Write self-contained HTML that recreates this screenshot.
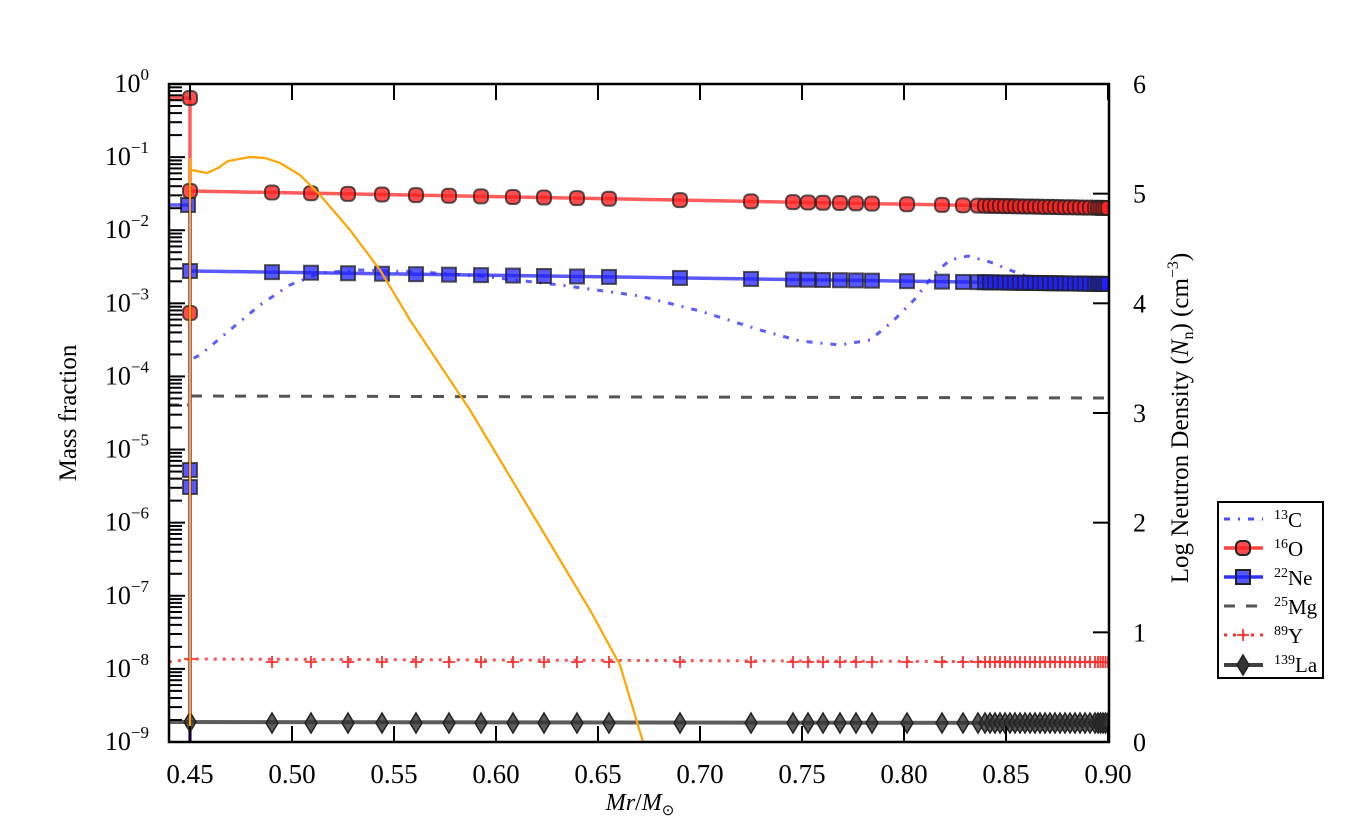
<!DOCTYPE html>
<html><head><meta charset="utf-8"><style>
html,body{margin:0;padding:0;background:#fff;}
svg{display:block;font-family:"Liberation Serif",serif;}
</style></head><body>
<svg id="s" width="1350" height="825" viewBox="0 0 1350 825" xmlns="http://www.w3.org/2000/svg">
<defs><clipPath id="c"><rect x="169" y="84" width="940" height="658"/></clipPath></defs>
<g id="data" clip-path="url(#c)"></g>
<g id="axes"></g>
</svg>
<script>
const NS="http://www.w3.org/2000/svg";
const D=document.getElementById('data'),A=document.getElementById('axes');
function el(p,tag,at,txt){const e=document.createElementNS(NS,tag);for(const k in at)e.setAttribute(k,at[k]);if(txt!==undefined)e.innerHTML=txt;p.appendChild(e);return e;}
const X=v=>190+(v-0.45)*2040;
const LY=d=>84+(-d)*73.11;
const RY=v=>742-v*109.67;
let mx=[190,272,311,348,382,416,449,481,513,544,577,609,680,751,793,808,823,840,856,872,907,942,963,978];
for(let x=985;x<=1095;x+=5)mx.push(x);
for(let x=1098;x<=1108;x+=2.5)mx.push(x);
const lin=(a,b)=>x=>a+(b-a)*(x-190)/918;
el(D,'line',{x1:169,y1:405,x2:188,y2:405,stroke:'#555',"stroke-width":3,"stroke-dasharray":"10,8"});
el(D,'line',{x1:191,y1:396,x2:1109,y2:398,stroke:'#555',"stroke-width":3,"stroke-dasharray":"11,11"});
const c13=[[190,740],[190,360],[200,355],[230,330],[260,305],[290,285],[320,273],[360,270],[420,272],[480,276],[560,285],[640,296],[700,311],[760,330],[800,341],[840,345],[870,340],[892,322],[914,300],[935,273],[950,260],[968,256],[990,262],[1020,274],[1050,283],[1109,285]];
el(D,'polyline',{points:c13.map(p=>p.join(',')).join(' '),fill:'none',stroke:'#4a4aff',"stroke-opacity":0.9,"stroke-width":3,"stroke-dasharray":"6,8,2,8"});
const oY=lin(191,208),nY=lin(271,284);
el(D,'polyline',{points:`190,742 190,98 190,313 190,191 1109,208`,fill:'none',stroke:'#ff4040',"stroke-opacity":0.85,"stroke-width":3.5});
el(D,'line',{x1:169,y1:98,x2:190,y2:98,stroke:'#ff4040',"stroke-opacity":0.85,"stroke-width":3.5});
el(D,'polyline',{points:`169,205 190,205 190,742 190,271 1109,284`,fill:'none',stroke:'#3030ff',"stroke-opacity":0.8,"stroke-width":3.5});
el(D,'polyline',{points:`169,662 190,659 1109,662`,fill:'none',stroke:'#ff3030',"stroke-opacity":0.85,"stroke-width":3,"stroke-dasharray":"3,6"});
el(D,'polyline',{points:`169,722 1109,723`,fill:'none',stroke:'#404040',"stroke-opacity":0.85,"stroke-width":4});
function circ(x,y){el(D,'rect',{x:x-7,y:y-7,width:14,height:14,rx:5,fill:'#ff2020',"fill-opacity":0.8,stroke:'#222',"stroke-opacity":0.75,"stroke-width":2});}
function sq(x,y){el(D,'rect',{x:x-7,y:y-7,width:14,height:14,fill:'#2020ff',"fill-opacity":0.75,stroke:'#222',"stroke-opacity":0.75,"stroke-width":2});}
function dia(x,y){el(D,'polygon',{points:`${x},${y-10} ${x+6},${y} ${x},${y+10} ${x-6},${y}`,fill:'#333',"fill-opacity":0.8,stroke:'#222',"stroke-width":1.5});}
function plus(x,y){el(D,'path',{d:`M${x-6},${y}H${x+6}M${x},${y-6}V${y+6}`,stroke:'#ff3030',"stroke-width":1.8});}
[98,313].forEach(y=>circ(190,y));
sq(188,205);
[470,487].forEach(y=>sq(190,y));
mx.forEach(x=>{circ(x,oY(x));sq(x,nY(x));plus(x,x==190?659:662);dia(x,x<200?722:723);});
const or=[[190,742],[190,158],[191,170],[207,173],[218,168],[228,161],[250,157],[265,158],[280,163],[300,175],[320,195],[350,230],[380,270],[410,320],[440,365],[470,410],[500,460],[530,510],[560,560],[590,610],[620,665],[643,742]];
el(D,'polyline',{points:or.map(p=>p.join(',')).join(' '),fill:'none',stroke:'#ffa500',"stroke-width":2.2});
el(A,'rect',{x:169,y:84,width:940,height:658,fill:'none',stroke:'#000',"stroke-width":2.5});
for(let i=0;i<=9;i++){const x=X(0.45+0.05*i);
 el(A,'line',{x1:x,y1:742,x2:x,y2:726,stroke:'#000',"stroke-width":2});
 el(A,'line',{x1:x,y1:84,x2:x,y2:100,stroke:'#000',"stroke-width":2});
 el(A,'text',{x:x,y:783,"font-size":27,"text-anchor":"middle"},(0.45+0.05*i).toFixed(2));}
for(let d=0;d>=-9;d--){const y=LY(d);
 el(A,'line',{x1:169,y1:y,x2:185,y2:y,stroke:'#000',"stroke-width":2});
 el(A,'text',{x:149,y:y+8,"font-size":26,"text-anchor":"end"},`10<tspan font-size="17" dy="-12">${d==0?'0':'\u2212'+(-d)}</tspan>`);
 if(d>-9)for(let k=2;k<10;k++){const yy=y+73.11-Math.log10(k)*73.11;el(A,'line',{x1:169,y1:yy,x2:182,y2:yy,stroke:'#000',"stroke-width":2});}}
for(let v=0;v<=6;v++){const y=RY(v);el(A,'line',{x1:1109,y1:y,x2:1093,y2:y,stroke:'#000',"stroke-width":2});
 el(A,'text',{x:1133,y:y+9,"font-size":26},String(v));}
el(A,'text',{x:0,y:0,"font-size":25,"text-anchor":"middle",transform:"translate(76,413) rotate(-90)"},'Mass fraction');
el(A,'text',{x:0,y:0,"font-size":25,"text-anchor":"middle",transform:"translate(1188,418) rotate(-90)"},'Log Neutron Density (<tspan font-style="italic">N</tspan><tspan font-size="16" dy="5">n</tspan><tspan dy="-5">) (cm</tspan><tspan font-size="16" dy="-10">\u22123</tspan><tspan dy="10">)</tspan>');
el(A,'text',{x:640,y:810,"font-size":24,"text-anchor":"middle"},'<tspan font-style="italic">Mr</tspan>/<tspan font-style="italic">M</tspan><tspan font-size="15" dy="5">\u2299</tspan>');
el(A,'rect',{x:1218,y:502,width:105,height:176,fill:'#fff',stroke:'#000',"stroke-width":2});
const L=[['13','C'],['16','O'],['22','Ne'],['25','Mg'],['89','Y'],['139','La']];
L.forEach((l,i)=>{const y=519+i*29;
 el(A,'text',{x:1274,y:y+8,"font-size":21},`<tspan font-size="14" dy="-8">${l[0]}</tspan><tspan dy="8">${l[1]}</tspan>`);});
const lg=(y,at)=>el(A,'line',Object.assign({x1:1224,y1:y,x2:1263,y2:y},at));
lg(519,{stroke:'#4a4aff',"stroke-width":3,"stroke-dasharray":"6,8,2,8"});
lg(548,{stroke:'#ff4040',"stroke-width":3.5});el(A,'rect',{x:1236,y:541,width:14,height:14,rx:5,fill:'#ff2020',"fill-opacity":0.8,stroke:'#222',"stroke-width":2});
lg(577,{stroke:'#3030ff',"stroke-width":3.5});el(A,'rect',{x:1236,y:570,width:14,height:14,fill:'#2020ff',"fill-opacity":0.75,stroke:'#222',"stroke-width":2});
lg(606,{stroke:'#555',"stroke-width":3,"stroke-dasharray":"11,11"});
lg(635,{stroke:'#ff3030',"stroke-width":3,"stroke-dasharray":"3,6"});el(A,'path',{d:'M1237,635H1249M1243,629V641',stroke:'#ff3030',"stroke-width":1.8});
lg(665,{stroke:'#404040',"stroke-width":4});el(A,'polygon',{points:'1243,655 1249,665 1243,675 1237,665',fill:'#333',stroke:'#222',"stroke-width":1.5});
</script>
</body></html>
